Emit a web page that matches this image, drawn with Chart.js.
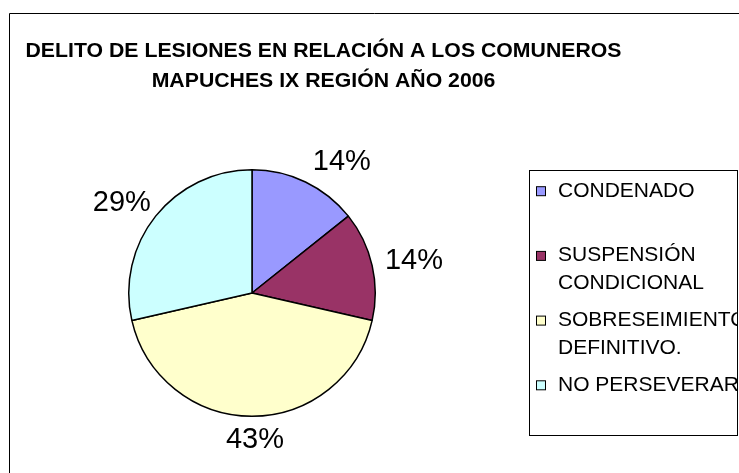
<!DOCTYPE html>
<html><head><meta charset="utf-8">
<script src="https://cdn.jsdelivr.net/npm/chart.js@4"></script>
<style>html,body{margin:0;padding:0;background:#fff}#wrap{width:739px;height:473px}</style>
</head><body><div id="wrap"><canvas id="c" width="739" height="473"></canvas></div>
<script>
const titleLines = ["DELITO DE LESIONES EN RELACIÓN A LOS COMUNEROS", "MAPUCHES IX REGIÓN AÑO 2006"];
const categories = [["CONDENADO"], ["SUSPENSIÓN", "CONDICIONAL"], ["SOBRESEIMIENTO", "DEFINITIVO."], ["NO PERSEVERAR"]];
const values = [1, 1, 3, 2];
const colors = ["#9999FF", "#993366", "#FFFFCC", "#CCFFFF"];

const FONT = '"Liberation Sans", Arial, sans-serif';

const decor = {
  id: 'decor',
  beforeDraw(chart) {
    const ctx = chart.ctx;
    ctx.save();
    ctx.fillStyle = '#fff';
    ctx.fillRect(0, 0, chart.width, chart.height);
    ctx.strokeStyle = '#000';
    ctx.lineWidth = 1;
    ctx.beginPath();
    ctx.moveTo(739, 13.5); ctx.lineTo(9.5, 13.5); ctx.lineTo(9.5, 473);
    ctx.stroke();
    // title (slightly widened glyphs as in the reference)
    ctx.fillStyle = '#000';
    ctx.font = 'bold 19.5px ' + FONT;
    ctx.textAlign = 'center';
    ctx.textBaseline = 'alphabetic';
    const sx = 1.09;
    ctx.translate(323.5, 0);
    ctx.scale(sx, 1);
    ctx.fillText(titleLines[0], 0, 57);
    ctx.fillText(titleLines[1], 0, 87);
    ctx.restore();
  },
  afterDraw(chart) {
    const ctx = chart.ctx;
    const meta = chart.getDatasetMeta(0);
    const ds = chart.data.datasets[0].data;
    const total = ds.reduce((a, b) => a + b, 0);
    ctx.save();
    // percentage labels
    ctx.font = '29px ' + FONT;
    ctx.fillStyle = '#000';
    ctx.textAlign = 'center';
    ctx.textBaseline = 'middle';
    meta.data.forEach((arc, i) => {
      const p = arc.getProps(['x', 'y', 'startAngle', 'endAngle', 'outerRadius'], true);
      const mid = (p.startAngle + p.endAngle) / 2;
      const dx = Math.cos(mid), dy = Math.sin(mid);
      const txt = Math.round(ds[i] / total * 100) + '%';
      const w = ctx.measureText(txt).width, h = 22;
      const ax = p.x + dx * (p.outerRadius + 10);
      const ay = p.y + dy * (p.outerRadius + 10);
      const sx = Math.abs(dx) < 0.05 ? 0 : Math.sign(dx) * w / 2;
      ctx.fillText(txt, ax + sx + 3, ay + dy * (h / 2 + 2) + 1);
    });
    // legend box
    const L = 529.5, T = 170.5, R = 737.5, B = 435.5;
    ctx.strokeStyle = '#000';
    ctx.lineWidth = 1;
    ctx.strokeRect(L, T, R - L, B - T);
    ctx.beginPath();
    ctx.rect(L, T, R - L, B - T);
    ctx.clip();
    ctx.font = '21px ' + FONT;
    ctx.textAlign = 'left';
    ctx.textBaseline = 'alphabetic';
    chart.data.labels.forEach((lab, i) => {
      const base = 196.7 + i * 64.7;
      ctx.fillStyle = colors[i];
      ctx.fillRect(536.5, base - 10, 9, 9);
      ctx.strokeStyle = '#000';
      ctx.strokeRect(536.5, base - 10, 9, 9);
      ctx.fillStyle = '#000';
      lab.forEach((line, j) => ctx.fillText(line, 558, base + j * 28));
    });
    ctx.restore();
  }
};

new Chart(document.getElementById('c'), {
  type: 'pie',
  data: {
    labels: categories,
    datasets: [{
      data: values,
      backgroundColor: colors,
      borderColor: '#000',
      borderWidth: 1.5
    }]
  },
  options: {
    responsive: false,
    animation: false,
    layout: { padding: { left: 128, right: 363, top: 169, bottom: 56 } },
    plugins: { legend: { display: false }, tooltip: { enabled: false }, title: { display: false } }
  },
  plugins: [decor]
});
</script></body></html>
